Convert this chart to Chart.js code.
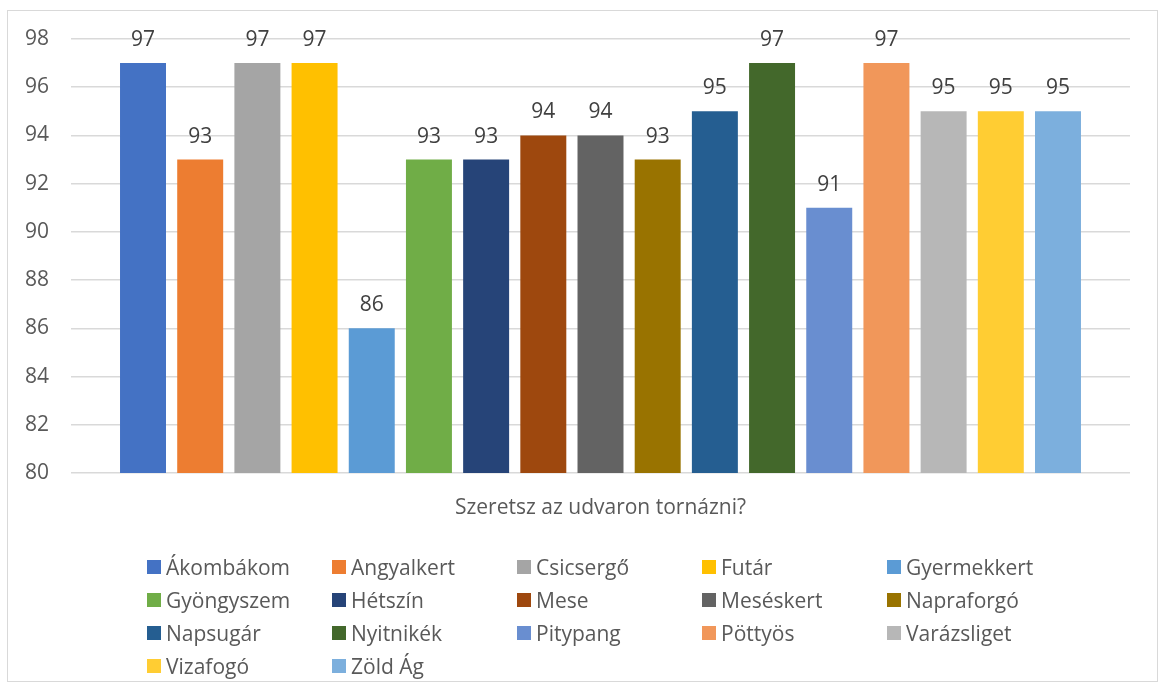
<!DOCTYPE html>
<html>
<head>
<meta charset="utf-8">
<script src="https://cdn.jsdelivr.net/npm/chart.js@4"></script>
<style>
  html, body { margin: 0; padding: 0; background: #fff; }
  #wrap { position: relative; width: 1160px; height: 682px; overflow: hidden; }
  #frame { position: absolute; left: 7px; top: 10px; width: 1151px; height: 672px; border: 1px solid #d9d9d9; box-sizing: border-box; }
  #c { position: absolute; left: 0; top: 0; }
  #legend { position: absolute; left: 147px; top: 554px; display: grid; grid-template-columns: repeat(5, 185px); grid-auto-rows: 33px; font-family: "Open Sans", sans-serif; font-size: 21px; color: #595959; }
  #legend .it { display: flex; align-items: center; white-space: nowrap; height: 26px; }
  #legend .sw { width: 14px; height: 14px; margin-right: 5px; flex: none; }
</style>
</head>
<body>
<div id="wrap">
  <div id="frame"></div>
  <canvas id="c" width="1160" height="682"></canvas>
  <div id="legend"></div>
</div>
<script>
const categories = ["Szeretsz az udvaron tornázni?"];
const seriesNames = ["Ákombákom","Angyalkert","Csicsergő","Futár","Gyermekkert","Gyöngyszem","Hétszín","Mese","Meséskert","Napraforgó","Napsugár","Nyitnikék","Pitypang","Pöttyös","Varázsliget","Vizafogó","Zöld Ág"];
const seriesValues = [97,93,97,97,86,93,93,94,94,93,95,97,91,97,95,95,95];
const seriesColors = ["#4472C4","#ED7D31","#A5A5A5","#FFC000","#5B9BD5","#70AD47","#264478","#9E480E","#636363","#997300","#255E91","#43682B","#698ED0","#F1975A","#B7B7B7","#FFCD33","#7CAFDD"];
const yMin = 80, yMax = 98, yStep = 2;

const datasets = seriesNames.map((n, i) => ({
  label: n,
  data: [seriesValues[i]],
  backgroundColor: seriesColors[i],
  borderWidth: 0,
  categoryPercentage: 0.918,
  barPercentage: 0.804
}));

const labelPlugin = {
  id: 'vals',
  afterDatasetsDraw(chart) {
    const ctx = chart.ctx;
    ctx.save();
    ctx.font = '21px "Open Sans", sans-serif';
    ctx.fillStyle = '#404040';
    ctx.textAlign = 'center';
    ctx.textBaseline = 'middle';
    chart.data.datasets.forEach((ds, i) => {
      const meta = chart.getDatasetMeta(i);
      meta.data.forEach((bar, j) => {
        ctx.fillText(String(ds.data[j]), bar.x, bar.y - 23);
      });
    });
    ctx.restore();
  }
};

new Chart(document.getElementById('c'), {
  type: 'bar',
  data: { labels: categories, datasets },
  options: {
    responsive: false,
    animation: false,
    devicePixelRatio: 1,
    layout: { padding: { top: 39, right: 30, left: 0, bottom: 0 } },
    plugins: { legend: { display: false }, tooltip: { enabled: false } },
    scales: {
      x: {
        grid: { display: false, drawTicks: false },
        border: { display: false },
        ticks: { color: '#595959', font: { family: 'Open Sans', size: 21 }, padding: 22 },
        afterFit(s) { s.height = 209; }
      },
      y: {
        min: yMin, max: yMax,
        ticks: { stepSize: yStep, color: '#595959', font: { family: 'Open Sans', size: 21 }, padding: 22 },
        grid: { color: '#d9d9d9', lineWidth: 1.6, drawTicks: false },
        border: { display: false },
        afterFit(s) { s.width = 71; }
      }
    }
  },
  plugins: [labelPlugin]
});

const lg = document.getElementById('legend');
seriesNames.forEach((n, i) => {
  const d = document.createElement('div');
  d.className = 'it';
  d.innerHTML = '<span class="sw" style="background:' + seriesColors[i] + '"></span><span></span>';
  d.lastChild.textContent = n;
  lg.appendChild(d);
});
</script>
</body>
</html>
